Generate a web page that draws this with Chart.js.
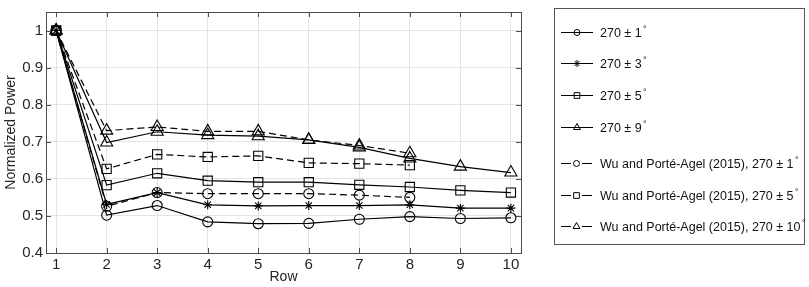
<!DOCTYPE html>
<html>
<head>
<meta charset="utf-8">
<script src="https://cdn.jsdelivr.net/npm/chart.js@4/dist/chart.umd.min.js"></script>
<style>
  html, body { margin: 0; padding: 0; background: #fff; }
  canvas { display: block; }
</style>
</head>
<body>
<canvas id="wake-chart" width="809" height="287"></canvas>
<script>
// Normalized power by turbine row
const rows = [1, 2, 3, 4, 5, 6, 7, 8, 9, 10];
const yTicks = [0.4, 0.5, 0.6, 0.7, 0.8, 0.9, 1];

const power1 = [1.0, 0.502, 0.528, 0.484, 0.479, 0.480, 0.491, 0.498, 0.493, 0.495];
const power3 = [1.0, 0.531, 0.563, 0.530, 0.527, 0.528, 0.528, 0.530, 0.521, 0.521];
const power5 = [1.0, 0.583, 0.615, 0.595, 0.591, 0.591, 0.584, 0.578, 0.569, 0.563];
const power9 = [1.0, 0.698, 0.727, 0.718, 0.715, 0.705, 0.685, 0.655, 0.633, 0.617];
// Wu and Porté-Agel (2015), rows 1-8 only
const wu1 = [1.0, 0.526, 0.563, 0.560, 0.560, 0.560, 0.556, 0.550];
const wu5 = [1.0, 0.627, 0.666, 0.659, 0.662, 0.643, 0.641, 0.637];
const wu10 = [1.0, 0.730, 0.740, 0.728, 0.728, 0.705, 0.690, 0.669];

const axisColor = '#4d4d4d';
const gridColor = '#e3e3e3';
const textColor = '#262626';
const fontFamily = '"Liberation Sans", Arial, Helvetica, sans-serif';

Chart.defaults.font.family = fontFamily;
Chart.defaults.color = textColor;

const toPoints = (vals) => vals.map((v, i) => ({ x: rows[i], y: v }));

function series(label, vals, style, radius, dashed, legendRadius) {
    return {
        label: label,
        data: toPoints(vals),
        borderColor: '#000',
        backgroundColor: 'rgba(0,0,0,0)',
        borderWidth: 1.2,
        borderDash: dashed ? [7, 4] : [],
        pointStyle: style,
        pointRadius: radius,
        pointBorderColor: '#000',
        pointBackgroundColor: 'rgba(0,0,0,0)',
        pointBorderWidth: 1.1,
        tension: 0,
        legendRadius: legendRadius,
        dashed: dashed
    };
}

// draws the box with inward ticks on all four sides
const boxPlugin = {
    id: 'box',
    afterDatasetsDraw(chart) {
        const ctx = chart.ctx;
        const { left, right, top, bottom } = chart.chartArea;
        ctx.save();
        ctx.strokeStyle = axisColor;
        ctx.lineWidth = 1;
        ctx.setLineDash([]);
        ctx.strokeRect(Math.round(left) + 0.5, Math.round(top) + 0.5, Math.round(right - left), Math.round(bottom - top));
        ctx.beginPath();
        chart.scales.x.ticks.forEach(t => {
            const px = Math.round(chart.scales.x.getPixelForValue(t.value)) + 0.5;
            ctx.moveTo(px, bottom); ctx.lineTo(px, bottom - 5);
            ctx.moveTo(px, top); ctx.lineTo(px, top + 5);
        });
        chart.scales.y.ticks.forEach(t => {
            const py = Math.round(chart.scales.y.getPixelForValue(t.value)) + 0.5;
            ctx.moveTo(left, py); ctx.lineTo(left + 5, py);
            ctx.moveTo(right, py); ctx.lineTo(right - 5, py);
        });
        ctx.stroke();
        ctx.restore();
    }
};

// MATLAB style legend box on the right
const legendRowsY = [31.7, 63.3, 95, 127, 163, 195, 226];
const legendPlugin = {
    id: 'matlabLegend',
    afterDraw(chart) {
        const ctx = chart.ctx;
        ctx.save();
        ctx.fillStyle = '#fff';
        ctx.fillRect(554, 8, 250, 236);
        ctx.strokeStyle = '#555';
        ctx.lineWidth = 1;
        ctx.strokeRect(554.5, 8.5, 250, 236);
        chart.data.datasets.forEach((ds, i) => {
            const y = Math.round(legendRowsY[i]) + 0.5;
            ctx.strokeStyle = '#000';
            ctx.lineWidth = 1;
            ctx.beginPath();
            if (ds.dashed) {
                ctx.moveTo(561, y); ctx.lineTo(571, y);
                ctx.moveTo(582, y); ctx.lineTo(592, y);
            } else {
                ctx.moveTo(561, y); ctx.lineTo(593, y);
            }
            ctx.stroke();
            ctx.fillStyle = 'rgba(0,0,0,0)';
            const mx = ds.dashed ? 576.5 : 577;
            Chart.helpers.drawPoint(ctx, {
                pointStyle: ds.pointStyle,
                radius: ds.legendRadius,
                rotation: 0,
                borderWidth: 1
            }, mx, y);
            // label text with raised degree sign
            const label = ds.label;
            const main = label.slice(0, -1);
            ctx.fillStyle = '#111';
            ctx.font = '12.5px ' + fontFamily;
            ctx.textBaseline = 'middle';
            ctx.textAlign = 'left';
            ctx.fillText(main, 600, y + 1);
            const w = ctx.measureText(main).width;
            ctx.font = '9px ' + fontFamily;
            ctx.fillText('°', 600 + w + 1.5, y - 3);
        });
        ctx.restore();
    }
};

const ctx = document.getElementById('wake-chart').getContext('2d');
const wakeChart = new Chart(ctx, {
    type: 'line',
    data: {
        datasets: [
            series('270 ± 1°', power1, 'circle', 5, false, 3),
            series('270 ± 3°', power3, 'star', 4.5, false, 3.5),
            series('270 ± 5°', power5, 'rect', 6.5, false, 4),
            series('270 ± 9°', power9, 'triangle', 7, false, 4),
            series('Wu and Porté-Agel (2015), 270 ± 1°', wu1, 'circle', 5, true, 3),
            series('Wu and Porté-Agel (2015), 270 ± 5°', wu5, 'rect', 6.5, true, 4),
            series('Wu and Porté-Agel (2015), 270 ± 10°', wu10, 'triangle', 7, true, 4)
        ]
    },
    options: {
        responsive: false,
        animation: false,
        devicePixelRatio: 1,
        layout: { padding: { top: 3, right: 288, left: 0, bottom: 0 } },
        plugins: {
            legend: { display: false },
            tooltip: { enabled: false }
        },
        scales: {
            x: {
                type: 'linear',
                min: 0.8,
                max: 10.2,
                afterFit(scale) { scale.height = 34; },
                ticks: {
                    stepSize: 1,
                    includeBounds: false,
                    padding: 3,
                    color: textColor,
                    font: { size: 15 }
                },
                grid: { color: gridColor, drawTicks: false },
                border: { display: false },
                title: {
                    display: true,
                    text: 'Row',
                    color: textColor,
                    font: { size: 14 },
                    padding: { top: 0, bottom: 1 }
                }
            },
            y: {
                type: 'linear',
                min: 0.4,
                max: 1.05,
                afterFit(scale) { scale.width = 46; },
                afterBuildTicks(scale) {
                    scale.ticks = yTicks.map(v => ({ value: v }));
                },
                ticks: {
                    padding: 3,
                    color: textColor,
                    font: { size: 15 },
                    callback: v => String(Math.round(v * 10) / 10)
                },
                grid: { color: gridColor, drawTicks: false },
                border: { display: false },
                title: {
                    display: true,
                    text: 'Normalized Power',
                    color: textColor,
                    font: { size: 14 },
                    padding: { top: 3, bottom: 0 }
                }
            }
        }
    },
    plugins: [boxPlugin, legendPlugin]
});
</script>
</body>
</html>
